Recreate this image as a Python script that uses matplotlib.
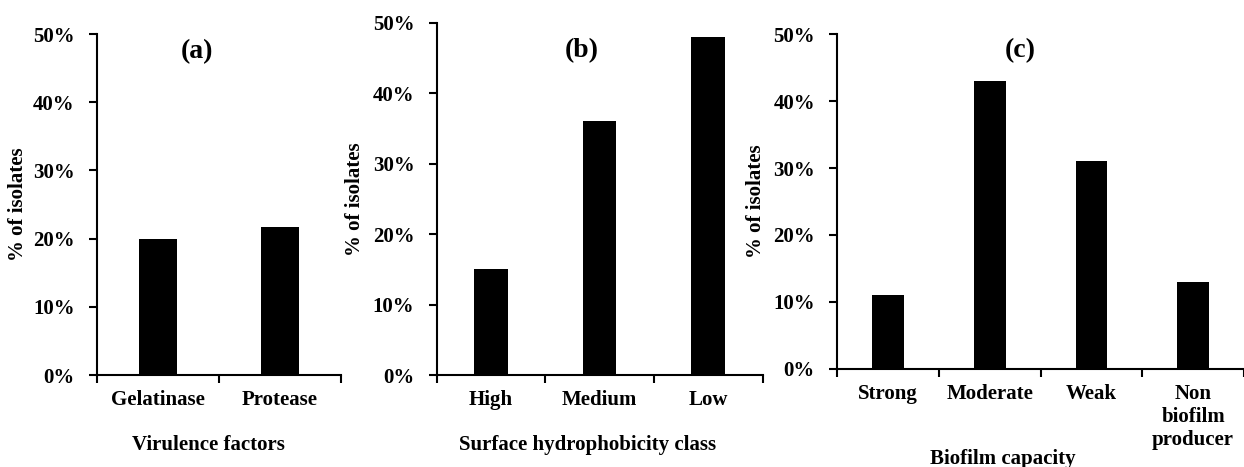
import matplotlib
matplotlib.use("Agg")
import numpy as np
import matplotlib.pyplot as plt
from matplotlib.ticker import PercentFormatter, FixedLocator

plt.rcParams["font.family"] = ["Liberation Serif", "DejaVu Serif"]
plt.rcParams["font.weight"] = "bold"

# data (percent of isolates)
virulence_cats = ["Gelatinase", "Protease"]
virulence_vals = [20.0, 21.7]

hydro_cats = ["High", "Medium", "Low"]
hydro_vals = [15.0, 36.0, 48.0]

biofilm_cats = ["Strong", "Moderate", "Weak", "Non\nbiofilm\nproducer"]
biofilm_vals = [11.0, 43.0, 31.0, 13.0]

panels = [
    # cats, vals, title, xlabel, rect, title_xy, ylabel_x, xlabel_xy
    (virulence_cats, virulence_vals, "(a)", "Virulence factors",
     [0.078, 0.197, 0.196, 0.730], (0.41, 0.95), -0.283, (0.455, -0.176)),
    (hydro_cats, hydro_vals, "(b)", "Surface hydrophobicity class",
     [0.351, 0.197, 0.262, 0.754], (0.445, 0.92), -0.221, (0.463, -0.170)),
    (biofilm_cats, biofilm_vals, "(c)", "Biofilm capacity",
     [0.673, 0.210, 0.327, 0.717], (0.45, 0.95), -0.174, (0.408, -0.240)),
]

fig = plt.figure(figsize=(12.44, 4.67), dpi=100)

for cats, vals, title, xlabel, rect, txy, ylx, xlxy in panels:
    ax = fig.add_axes(rect)
    x = np.arange(len(cats))
    ax.bar(x, vals, width=0.31, color="black")
    ax.set_xlim(-0.5, len(cats) - 0.5)
    ax.set_ylim(0, 50)
    ax.set_yticks(np.arange(0, 51, 10))
    ax.yaxis.set_major_formatter(PercentFormatter(decimals=0))
    ax.set_xticks(x)
    ax.set_xticklabels(cats, linespacing=1.2)
    ax.xaxis.set_minor_locator(FixedLocator(np.arange(-0.5, len(cats), 1.0)))
    ax.tick_params(axis="x", which="major", length=0, pad=11, labelsize=15)
    ax.tick_params(axis="x", which="minor", length=6, width=1.5, direction="out")
    ax.tick_params(axis="y", length=6, width=1.5, direction="out", pad=10, labelsize=15)
    for lab in ax.get_xticklabels() + ax.get_yticklabels():
        lab.set_fontweight("bold")
    for s in ["top", "right"]:
        ax.spines[s].set_visible(False)
    for s in ["left", "bottom"]:
        ax.spines[s].set_linewidth(1.5)
    ax.set_ylabel("% of isolates", fontsize=15, fontweight="bold")
    ax.yaxis.set_label_coords(ylx, 0.5)
    ax.set_xlabel(xlabel, fontsize=15, fontweight="bold")
    ax.xaxis.set_label_coords(*xlxy)
    ax.text(txy[0], txy[1], title, transform=ax.transAxes,
            ha="center", va="center", fontsize=20, fontweight="bold")

fig.savefig("out.png", dpi=100)
